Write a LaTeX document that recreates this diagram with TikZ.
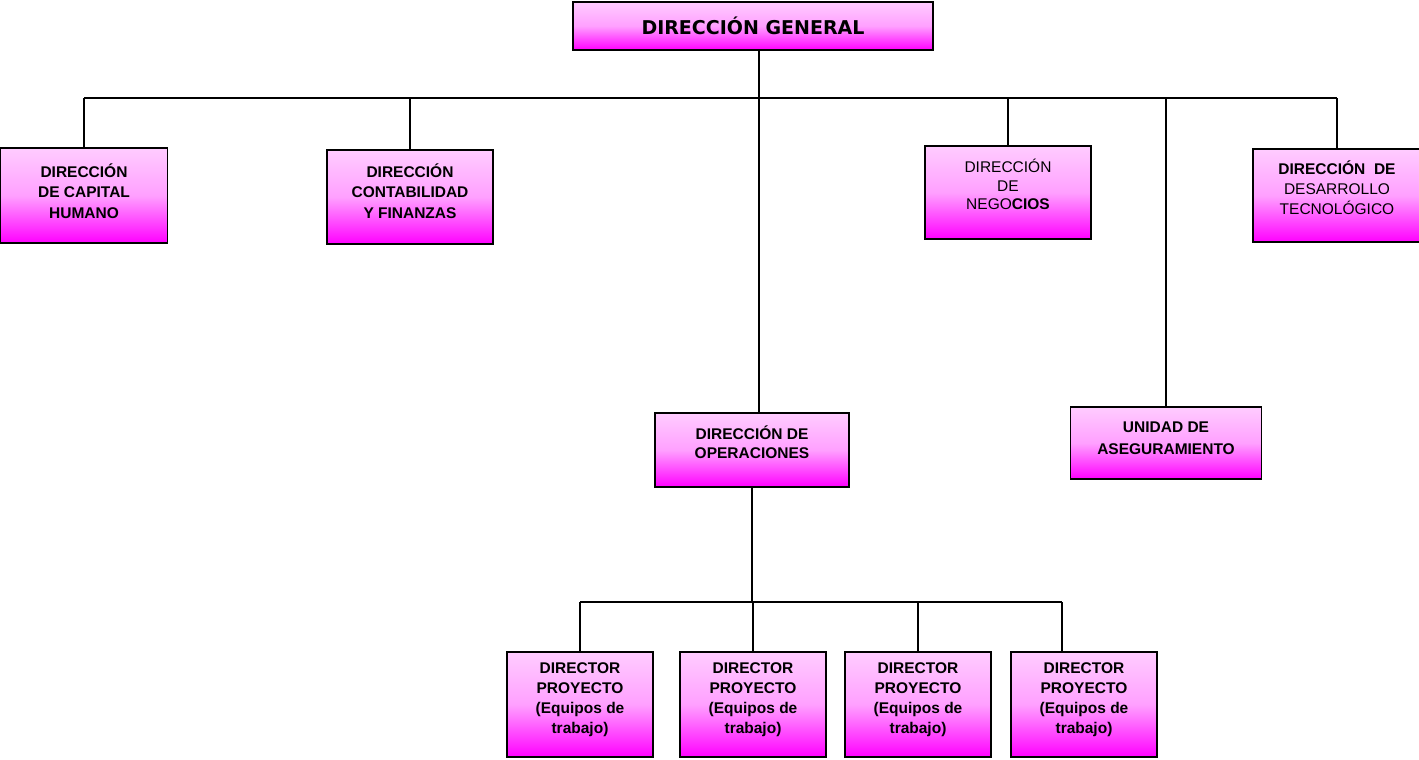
\documentclass[tikz,border=0pt]{standalone}
\usepackage{fontspec}
\setmainfont{Liberation Sans}
\newfontfamily\titlefont{DejaVu Sans}
\usetikzlibrary{positioning}

\definecolor{boxtop}{RGB}{255,204,255}
\definecolor{boxmid}{RGB}{255,160,255}
\definecolor{boxbot}{RGB}{255,0,255}

\begin{document}
\begin{tikzpicture}[x=1pt, y=-1pt,
    unit/.style={draw=black, line width=1.8pt, top color=boxtop, bottom color=boxbot, middle color=boxmid,
        inner sep=0pt, align=center, font=\fontsize{15.5}{20.5}\selectfont},
    link/.style={line width=2pt}]
    \useasboundingbox (0,0) rectangle (1419,760);

    % Top of the chart
    \node[unit, minimum width=360, minimum height=48, font=\titlefont\bfseries\fontsize{19}{23}\selectfont] (gen) at (753,26) {DIRECCIÓN GENERAL};

    % First level
    \node[unit, minimum width=167, minimum height=95, text depth=9] (capital) at (84,195.5) {\bfseries DIRECCIÓN\\\bfseries DE CAPITAL\\\bfseries HUMANO};
    \node[unit, minimum width=166, minimum height=94, text depth=12] (conta) at (410,197) {\bfseries DIRECCIÓN\\\bfseries CONTABILIDAD\\\bfseries Y FINANZAS};
    \node[unit, minimum width=166, minimum height=93, text depth=16, font=\fontsize{15.5}{18.5}\selectfont] (nego) at (1008,192.5) {DIRECCIÓN\\DE\\NEGO\textbf{CIOS}};
    \node[unit, minimum width=168, minimum height=93, text depth=16, font=\fontsize{15.5}{20}\selectfont] (desa) at (1337,195.5) {\textbf{DIRECCIÓN\ \ DE}\\DESARROLLO\\TECNOLÓGICO};
    \node[unit, minimum width=194, minimum height=74, text depth=16, font=\bfseries\fontsize{15.5}{19}\selectfont] (oper) at (752,450) {DIRECCIÓN DE\\OPERACIONES};
    \node[unit, minimum width=191, minimum height=72, text depth=10, font=\bfseries\fontsize{15.5}{22}\selectfont] (aseg) at (1166,443) {UNIDAD DE\\ASEGURAMIENTO};

    % Project directors
    \foreach \name/\x in {pa/580, pb/753, pc/918, pd/1084}
        \node[unit, minimum width=146, minimum height=105, text depth=13, font=\bfseries\fontsize{15.5}{20}\selectfont] (\name) at (\x,704.5) {DIRECTOR\\PROYECTO\\(Equipos de\\trabajo)};

    % Upper bus
    \coordinate (busL) at (84,98);
    \coordinate (busR) at (1337,98);
    \draw[link] (busL) -- (busR);
    \draw[link] ([xshift=6]gen.south) -- ([xshift=6]gen.south |- oper.north);
    \foreach \name in {capital, conta, nego, aseg, desa}
        \draw[link] (\name.north) -- (\name.north |- busL);

    % Lower bus
    \coordinate (busB) at (580,602);
    \coordinate (busE) at (1062,602);
    \draw[link] (busB) -- (busE);
    \draw[link] (oper.south) -- (oper.south |- busB);
    \foreach \name in {pa, pb, pc}
        \draw[link] (\name.north) -- (\name.north |- busB);
    \draw[link] (busE) -- (busE |- pd.north);
\end{tikzpicture}
\end{document}
